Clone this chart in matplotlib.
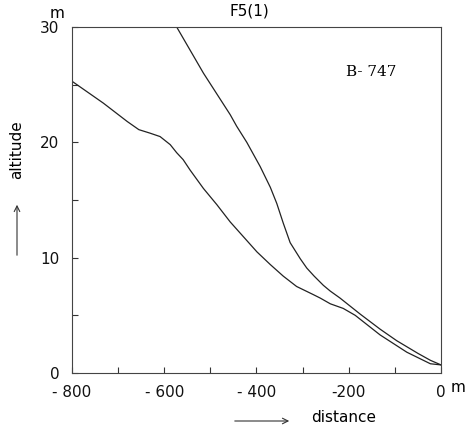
"""
Profilo di avvicinamento B-747 (F5(1)): quota in funzione della distanza.
"""

import matplotlib
matplotlib.use("Agg")
import matplotlib.pyplot as plt
from matplotlib.ticker import MultipleLocator

# curva ripida (parte dall'alto a circa -570 m)
upper_x = [-573, -515, -457, -443, -421, -392, -370, -356, -342, -327, -305, -291,
           -275, -255, -240, -219, -175, -132, -96, -50, -23, 0]
upper_y = [30.0, 26.0, 22.4, 21.4, 20.0, 17.9, 16.1, 14.7, 13.0, 11.3, 9.9, 9.1,
           8.4, 7.6, 7.1, 6.5, 5.1, 3.8, 2.8, 1.7, 1.1, 0.7]

# curva bassa (parte da -800 m)
lower_x = [-800, -732, -680, -655, -631, -609, -587, -573, -559, -544, -515, -486,
           -457, -428, -399, -370, -342, -313, -277, -262, -240, -212, -186, -132,
           -74, -23, 0]
lower_y = [25.3, 23.4, 21.8, 21.1, 20.8, 20.5, 19.8, 19.1, 18.5, 17.6, 16.0, 14.6,
           13.1, 11.8, 10.5, 9.4, 8.4, 7.5, 6.8, 6.5, 6.0, 5.6, 5.0, 3.3,
           1.8, 0.8, 0.7]

x_ticks = [-800, -600, -400, -200, 0]
x_labels = ["- 800", "- 600", "- 400", "-200", "0"]
y_ticks = [0, 10, 20, 30]
y_labels = ["0", "10", "20", "30"]

plt.rcParams["font.family"] = ["DejaVu Sans"]

fig = plt.figure(figsize=(4.68, 4.33), dpi=100)
ax = fig.add_axes([0.1538, 0.1386, 0.7885, 0.7990])

ax.plot(upper_x, upper_y, color="#222222", linewidth=0.9)
ax.plot(lower_x, lower_y, color="#222222", linewidth=0.9)

ax.set_xlim(-800, 0)
ax.set_ylim(0, 30)
ax.set_xticks(x_ticks)
ax.set_xticklabels(x_labels)
ax.set_yticks(y_ticks)
ax.set_yticklabels(y_labels)
ax.xaxis.set_minor_locator(MultipleLocator(100))
ax.yaxis.set_minor_locator(MultipleLocator(5))
ax.tick_params(which="both", direction="in", length=4, width=0.8, colors="#333333",
               labelcolor="#111111", labelsize=11)
ax.tick_params(axis="x", pad=9)
ax.tick_params(axis="y", pad=9)
for s in ax.spines.values():
    s.set_linewidth(0.8)
    s.set_color("#444444")

# testi (unita', titolo, etichette)
fig.text(57 / 468, 1 - 14 / 433, "m", fontsize=11, ha="center", va="center")
fig.text(458 / 468, 1 - 387 / 433, "m", fontsize=11, ha="center", va="center")
fig.text(249 / 468, 1 - 11 / 433, "F5(1)", fontsize=11, ha="center", va="center")
fig.text(371 / 468, 1 - 72 / 433, "B- 747", fontsize=11, ha="center", va="center",
         family="DejaVu Serif")
fig.text(17 / 468, 1 - 150 / 433, "altitude", fontsize=11, ha="center", va="center",
         rotation=90)
fig.text(344 / 468, 1 - 418 / 433, "distance", fontsize=11, ha="center", va="center")

# frecce accanto alle etichette degli assi
fig.add_artist(matplotlib.patches.FancyArrowPatch(
    (17 / 468, 1 - 258 / 433), (17 / 468, 1 - 202 / 433), transform=fig.transFigure,
    arrowstyle="->", mutation_scale=10, linewidth=0.8, color="#333333"))
fig.add_artist(matplotlib.patches.FancyArrowPatch(
    (232 / 468, 1 - 421 / 433), (292 / 468, 1 - 421 / 433), transform=fig.transFigure,
    arrowstyle="->", mutation_scale=10, linewidth=0.8, color="#333333"))

fig.savefig("out.png", dpi=100)
plt.close(fig)
